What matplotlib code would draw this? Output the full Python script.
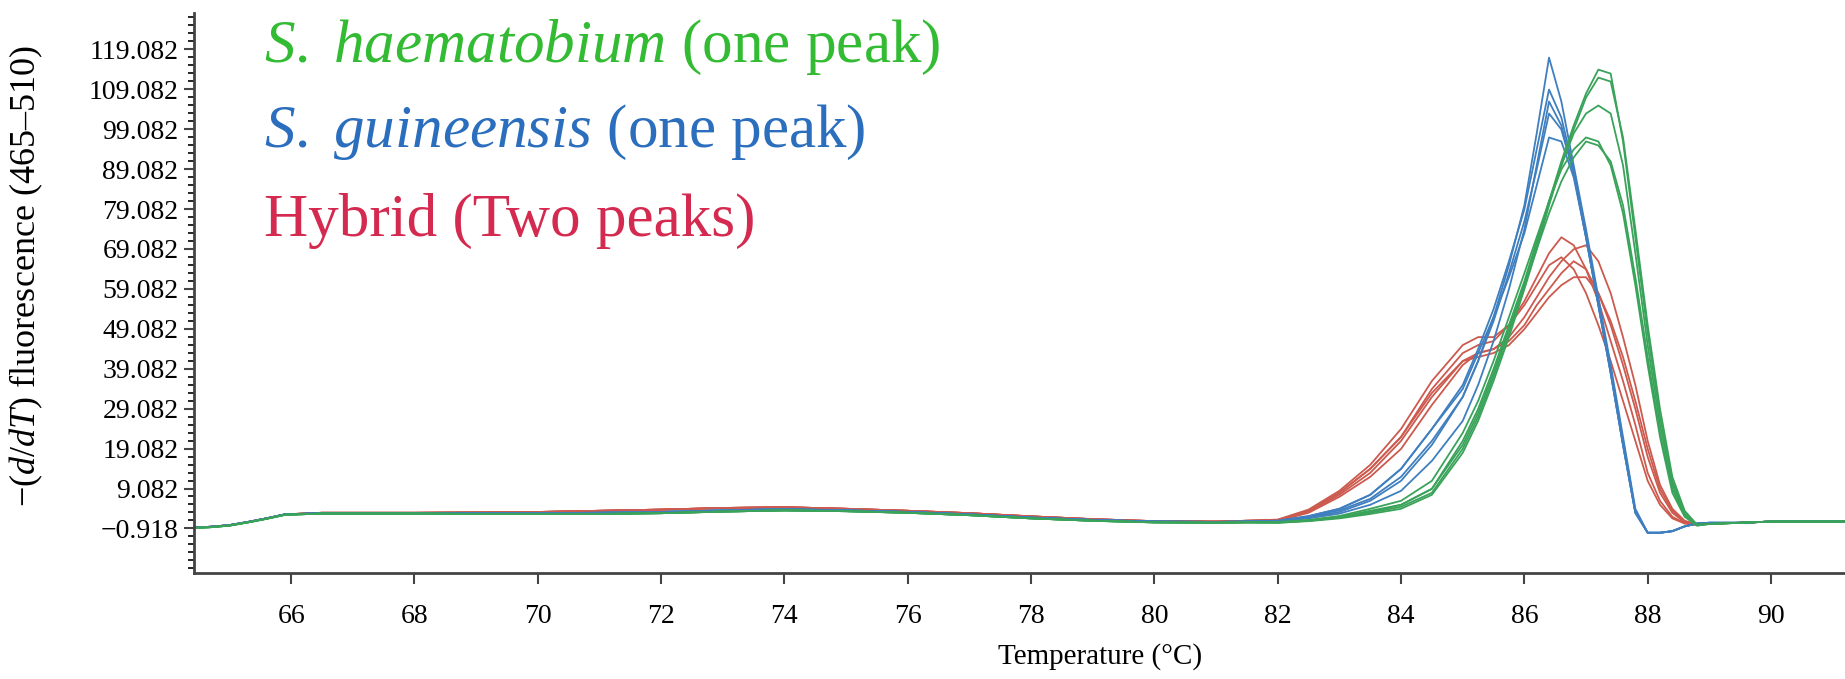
import numpy as np
import matplotlib.pyplot as plt
from matplotlib.ticker import FixedLocator

plt.rcParams['font.family'] = 'Liberation Serif'
plt.rcParams['mathtext.fontset'] = 'custom'
plt.rcParams['mathtext.rm'] = 'Liberation Serif'
plt.rcParams['mathtext.it'] = 'Liberation Serif:italic'

# flat part before the melt (shared temperature grid)
base_t = [64.42, 64.7, 65.0, 65.3, 65.6, 65.9, 66.5, 67, 68, 69, 70, 71, 72, 73, 74, 75, 76, 77, 78, 79, 80, 81, 81.5]
green_base = [-0.8, -0.6, -0.2, 0.6, 1.5, 2.5, 2.8, 2.8, 2.8, 2.7, 2.7, 2.7, 2.9, 3.3, 3.6, 3.4, 3.0, 2.4, 1.6, 1.0, 0.6, 0.5, 0.6]
blue_base = [-0.7, -0.5, -0.1, 0.7, 1.6, 2.6, 2.9, 2.9, 2.9, 2.9, 2.9, 3.0, 3.2, 3.6, 3.9, 3.6, 3.2, 2.6, 1.8, 1.2, 0.8, 0.7, 0.8]
red_base = [-0.7, -0.5, -0.1, 0.7, 1.6, 2.6, 3.0, 3.0, 3.0, 3.1, 3.2, 3.5, 3.8, 4.2, 4.4, 4.0, 3.5, 2.9, 2.1, 1.4, 0.9, 0.8, 1.0]

# melt peak region
peak_t = [82.0, 82.5, 83.0, 83.5, 84.0, 84.5, 85.0, 85.25, 85.5, 85.75, 86.0, 86.2, 86.4,
          86.6, 86.8, 87.0, 87.2, 87.4, 87.6, 87.8, 88.0, 88.2, 88.4, 88.6, 88.8, 89.0]

haematobium = [
    [0.6, 1.0, 1.8, 3.0, 4.5, 8, 19, 27, 37, 48, 60, 70, 81, 91, 100, 108, 114, 113, 96, 72, 48, 27, 11, 3, 0, 0.2],
    [0.5, 0.9, 1.6, 2.7, 4.0, 7.5, 18, 26, 36, 47, 59, 69, 80, 90, 99, 107, 112, 111, 97, 74, 50, 29, 12, 3.5, 0, 0.2],
    [0.6, 1.1, 2.0, 3.5, 5.0, 9, 21, 29, 39, 50, 61, 71, 81, 90, 98, 103, 105, 103, 90, 68, 45, 25, 10, 2.5, 0, 0.2],
    [0.7, 1.2, 2.2, 4.0, 6.0, 11, 23, 31, 41, 52, 63, 72, 81, 89, 94, 97, 96, 90, 78, 60, 40, 22, 8, 2, -0.2, 0.2],
    [0.5, 1.0, 1.8, 3.2, 5.0, 9, 20, 28, 38, 49, 60, 69, 78, 86, 92, 96, 95, 91, 80, 62, 42, 23, 9, 2.2, -0.2, 0.2],
]
guineensis = [
    [0.9, 1.8, 3.2, 6.0, 11, 20, 32, 41, 52, 65, 80, 98, 117, 106, 90, 74, 57, 40, 22, 4, -2, -2, -1.6, -0.4, 0.3, 0.5],
    [1.0, 2.2, 4.0, 7.5, 14, 24, 35, 44, 54, 66, 79, 94, 109, 102, 89, 73, 56, 39, 21, 3.5, -2, -2, -1.6, -0.4, 0.3, 0.5],
    [0.8, 1.6, 2.8, 5.0, 8.5, 16, 26, 35, 46, 59, 74, 90, 106, 100, 88, 72, 55, 38, 20, 3, -2, -2, -1.6, -0.4, 0.3, 0.5],
    [0.9, 2.0, 3.6, 6.5, 12, 21, 32, 41, 51, 63, 76, 89, 103, 99, 88, 72, 55, 38, 20, 3, -2, -2, -1.6, -0.4, 0.3, 0.5],
    [1.0, 2.1, 4.0, 7.5, 14, 24, 34, 43, 52, 62, 73, 85, 97, 96, 87, 72, 55, 38, 20, 3, -2, -2, -1.6, -0.4, 0.3, 0.5],
]
hybrid = [
    [1.2, 3.5, 8, 14, 22, 34, 43, 45, 46, 50, 56, 62, 68, 72, 70, 64, 56, 46, 36, 25, 13, 6, 2, 0.4, 0, 0.3],
    [1.0, 3.0, 7, 12, 19, 30, 40, 43, 44, 47, 52, 57, 62, 66, 69, 70, 66, 58, 47, 35, 21, 10, 4, 1.0, 0.1, 0.3],
    [1.3, 3.8, 8.5, 15, 24, 36, 45, 47, 47, 50, 55, 60, 65, 67, 64, 58, 50, 41, 31, 21, 11, 5, 1.6, 0.3, 0, 0.3],
    [1.1, 3.2, 7.5, 13, 21, 32, 41, 43, 44, 46, 50, 55, 59, 63, 66, 64, 58, 50, 40, 29, 17, 8, 3, 0.6, 0, 0.3],
    [1.2, 3.4, 8, 14, 22, 33, 41, 42, 43, 45, 49, 53, 57, 60, 62, 62, 58, 51, 42, 31, 19, 9, 3.5, 0.8, 0, 0.3],
]

# flat part after the melt
tail_t = [89.5, 90.0, 90.5, 91.0, 91.2]
tail_v = [0.5, 0.8, 0.8, 0.8, 0.8]

y_ticks = [-0.918, 9.082, 19.082, 29.082, 39.082, 49.082, 59.082, 69.082, 79.082, 89.082, 99.082, 109.082, 119.082]
y_labels = ['\u22120.918', '9.082', '19.082', '29.082', '39.082', '49.082', '59.082', '69.082',
            '79.082', '89.082', '99.082', '109.082', '119.082']
x_ticks = [66, 68, 70, 72, 74, 76, 78, 80, 82, 84, 86, 88, 90]

fig = plt.figure(figsize=(18.45, 6.79), dpi=100)
ax = fig.add_axes([0.105, 0.156, 0.895, 0.825])

t_all = base_t + peak_t + tail_t
for c in hybrid:
    ax.plot(t_all, red_base + c + tail_v, color='#cc5a4e', lw=1.3)
for c in guineensis:
    ax.plot(t_all, blue_base + c + tail_v, color='#3f7fbf', lw=1.3)
for c in haematobium:
    ax.plot(t_all, green_base + c + tail_v, color='#3aa35a', lw=1.3)

ax.set_xlim(64.42, 91.2)
ax.set_ylim(-12.1, 128.2)
ax.set_xticks(x_ticks)
ax.set_yticks(y_ticks)
ax.set_yticklabels(y_labels)
ax.yaxis.set_minor_locator(FixedLocator(np.arange(-10.918, 128, 2)))
ax.tick_params(axis='both', labelsize=20, color='#444444', width=1.5)
ax.tick_params(axis='x', length=8, pad=14)
ax.tick_params(axis='y', which='major', length=7, pad=4)
ax.tick_params(axis='y', which='minor', length=4, width=1.2)
for s in ['top', 'right']:
    ax.spines[s].set_visible(False)
for s in ['left', 'bottom']:
    ax.spines[s].set_color('#444444')
    ax.spines[s].set_linewidth(2)

ax.set_xlabel('Temperature (°C)', fontsize=21)
ax.xaxis.set_label_coords(0.549, -0.125)
ax.set_ylabel('\u2212($\\it{d/dT}$) fluorescence (465\u2013510)', fontsize=26)
ax.yaxis.set_label_coords(-0.09, 0.53)

fig.text(0.143, 0.93, '$\\it{S.\\ haematobium}$ (one peak)', fontsize=44, color='#33bb33', va='center')
fig.text(0.143, 0.805, '$\\it{S.\\ guineensis}$ (one peak)', fontsize=44, color='#2a6ebd', va='center')
fig.text(0.143, 0.675, 'Hybrid (Two peaks)', fontsize=44, color='#d42a4f', va='center')

fig.savefig('out.png', dpi=100)
